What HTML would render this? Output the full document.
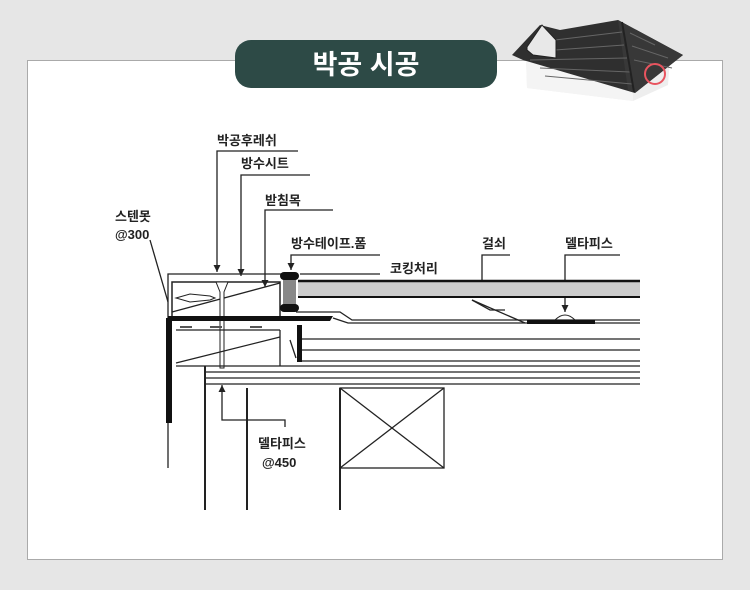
<!DOCTYPE html>
<html><head><meta charset="utf-8"><style>
html,body{margin:0;padding:0;background:#e6e6e6;}
svg{display:block;}
text{font-family:"Liberation Sans","Noto Sans CJK KR",sans-serif;font-weight:bold;fill:#222;}
</style></head><body>
<svg width="750" height="590" viewBox="0 0 750 590" xmlns="http://www.w3.org/2000/svg">
<defs><marker id="a" viewBox="0 0 10 10" refX="10" refY="5" markerWidth="7" markerHeight="7" markerUnits="userSpaceOnUse" orient="auto"><path d="M0,0 L10,5 L0,10 z" fill="#222"/></marker></defs>
<rect x="0" y="0" width="750" height="590" fill="#e6e6e6"/>
<rect x="27.5" y="60.5" width="695" height="499" fill="#fff" stroke="#aaa"/>
<!-- roof icon -->
<polygon points="526,58 527,88 633,101 668,85 670,58" fill="#eee"/>
<polygon points="526,58 527,88 633,101 633,70" fill="#f4f4f4"/>
<polygon points="512,55 540,25 560,30 618,20 683,55 635,93 523,60" fill="#2f2f2f"/>
<polygon points="618,20 683,55 635,93 628,90" fill="#383838"/>
<g stroke="#666" stroke-width="1"><line x1="555" y1="40" x2="622" y2="32"/><line x1="555" y1="50" x2="624" y2="45"/><line x1="530" y1="60" x2="627" y2="58"/><line x1="540" y1="68" x2="630" y2="72"/><line x1="545" y1="76" x2="632" y2="84"/><line x1="630" y1="33" x2="655" y2="45"/><line x1="632" y1="46" x2="668" y2="58"/><line x1="634" y1="60" x2="672" y2="68"/><line x1="622" y1="22" x2="634" y2="92" stroke="#222" stroke-width="2"/></g>
<polygon points="527,47 542,25 556,40 556,58 533,55 527,50" fill="#e8e8e8" stroke="#222"/>
<circle cx="655" cy="74" r="10" fill="none" stroke="#e8545f" stroke-width="2"/>
<rect x="235" y="40" width="262" height="48" rx="16" fill="#2d4a46"/>
<text x="366" y="74" text-anchor="middle" style="font-size:27px;fill:#fff">박공 시공</text>
<!-- labels -->
<g style="font-size:13px">
<text x="217" y="145">박공후레쉬</text>
<text x="241" y="168">방수시트</text>
<text x="265" y="205">받침목</text>
<text x="291" y="248">방수테이프.폼</text>
<text x="390" y="273">코킹처리</text>
<text x="482" y="248">걸쇠</text>
<text x="565" y="248">델타피스</text>
<text x="115" y="221">스텐못</text>
<text x="115" y="239">@300</text>
<text x="258" y="448">델타피스</text>
<text x="262" y="467">@450</text>
</g>
<g stroke="#222" stroke-width="1.3" fill="none">
<polyline points="298,151 217,151 217,272" marker-end="url(#a)"/>
<polyline points="310,175 241,175 241,276" marker-end="url(#a)"/>
<polyline points="333,210 265,210 265,287" marker-end="url(#a)"/>
<polyline points="380,255 291,255 291,270" marker-end="url(#a)"/>
<line x1="300" y1="274" x2="380" y2="274"/>
<polyline points="510,255 482,255 482,298" marker-end="url(#a)"/>
<polyline points="620,255 565,255 565,312" marker-end="url(#a)"/>
<line x1="150" y1="240" x2="168" y2="302"/>
<polyline points="285,427 285,420 222,420 222,385" marker-end="url(#a)"/>
<!-- flashing -->
<polyline points="168,318 168,274 296,274"/>
<rect x="172" y="282" width="108" height="35" stroke-width="1.5"/>
<line x1="172" y1="312" x2="280" y2="283"/>
</g>
<!-- screw -->
<g stroke="#222" stroke-width="1">
<path d="M216,282 L228,282 L224,292 L224,368 L220,368 L220,292 z" fill="#fff"/>
<path d="M176,298 L190,294 L210,296 L215,298 L210,300 L190,302 z" fill="#fff"/>
</g>
<!-- gray sheet -->
<rect x="298" y="281" width="342" height="16" fill="#ccc"/>
<line x1="298" y1="281" x2="640" y2="281" stroke="#111" stroke-width="2.5"/>
<line x1="298" y1="297" x2="640" y2="297" stroke="#111" stroke-width="2"/>
<!-- foam -->
<rect x="283" y="276" width="13" height="32" fill="#888"/>
<rect x="280" y="272" width="19" height="8" rx="4" fill="#111"/>
<rect x="280" y="304" width="19" height="8" rx="4" fill="#111"/>
<!-- top thick band -->
<polygon points="168,316 333,316 330,321 168,321" fill="#111"/>
<g stroke="#222" stroke-width="1.3" fill="none">
<polyline points="296,312 340,312 352,320 640,320"/>
<polyline points="333,318 348,323 640,323"/>
<line x1="472" y1="300" x2="525" y2="323"/>
<polyline points="472,300 490,310 505,310"/>
<line x1="300" y1="339" x2="640" y2="339"/>
<line x1="300" y1="350" x2="640" y2="350"/>
<line x1="300" y1="361" x2="640" y2="361"/>
<line x1="205" y1="366" x2="640" y2="366"/>
<line x1="205" y1="372" x2="640" y2="372"/>
<line x1="205" y1="378" x2="640" y2="378"/>
<line x1="205" y1="384" x2="640" y2="384"/>
<line x1="176" y1="330" x2="280" y2="330"/>
<line x1="176" y1="363" x2="280" y2="337"/>
<line x1="280" y1="330" x2="280" y2="366"/>
<line x1="176" y1="366" x2="205" y2="366"/>
<line x1="205" y1="366" x2="205" y2="510" stroke-width="2"/>
<line x1="247" y1="388" x2="247" y2="510" stroke-width="2"/>
<line x1="340" y1="388" x2="340" y2="510" stroke-width="2"/>
<rect x="340" y="388" width="104" height="80"/>
<line x1="340" y1="388" x2="444" y2="468"/>
<line x1="444" y1="388" x2="340" y2="468"/>
<line x1="168" y1="420" x2="168" y2="468"/>
<line x1="290" y1="340" x2="296" y2="358"/>
</g>
<rect x="166" y="318" width="6" height="105" fill="#111"/>
<rect x="297" y="325" width="5" height="37" fill="#111"/>
<rect x="527" y="320" width="68" height="4" fill="#111"/>
<path d="M555,320 Q565,310 575,320" fill="none" stroke="#222"/>
<g fill="#555"><rect x="180" y="326" width="12" height="2"/><rect x="210" y="326" width="12" height="2"/><rect x="250" y="326" width="12" height="2"/></g>
</svg>
</body></html>
